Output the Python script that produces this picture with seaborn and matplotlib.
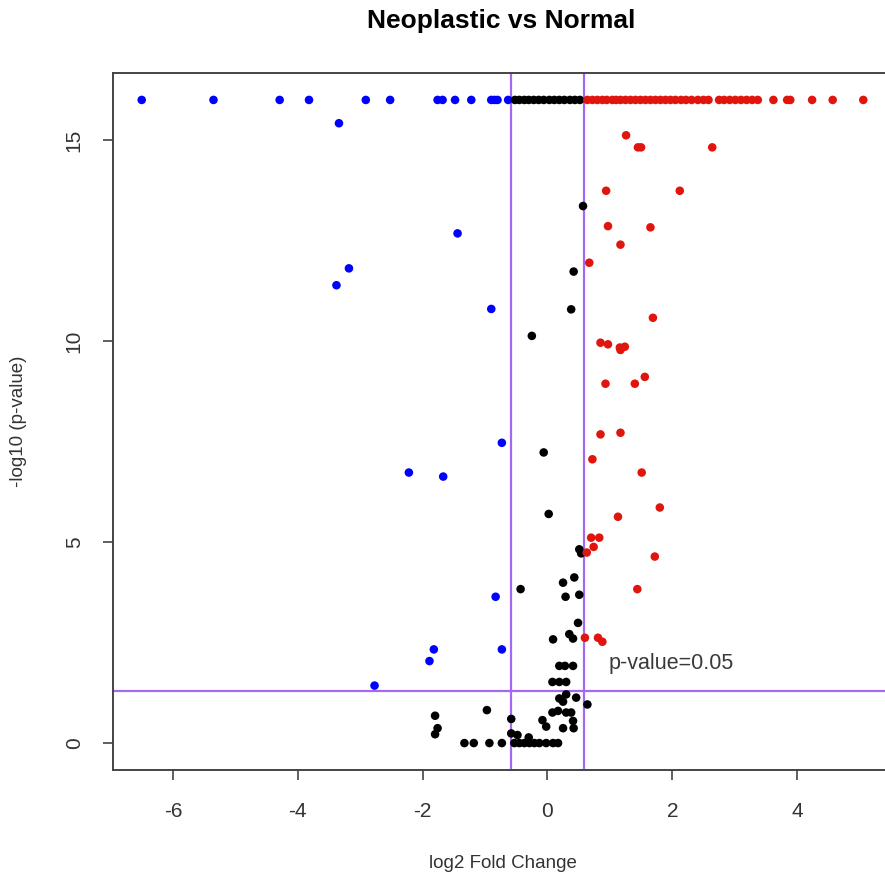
import numpy as np
import pandas as pd
import matplotlib
matplotlib.use("Agg")
import matplotlib.pyplot as plt
import seaborn as sns

# --- data (log2 fold change, -log10 p-value) ---
blue_x = [-6.50, -5.35, -4.29, -3.82, -2.91, -2.52, -1.76, -1.68, -1.48, -1.22,
          -0.90, -0.85, -0.80, -0.63,
          -3.34, -1.44, -3.18, -3.38, -0.90, -0.73, -2.22, -1.67, -0.83, -1.82,
          -0.73, -1.89, -2.77]
blue_y = [16.0] * 14 + [15.42, 12.68, 11.81, 11.39, 10.80, 7.47, 6.73, 6.63, 3.64,
                        2.33, 2.33, 2.04, 1.43]

black_x = [-0.52, -0.45, -0.37, -0.30, -0.22, -0.14, -0.06, 0.03, 0.11, 0.19,
           0.27, 0.36, 0.44, 0.52,
           0.57, 0.42, 0.38, -0.25, -0.06, 0.02, 0.51, 0.54, 0.43, 0.25, -0.43,
           0.29, 0.51, 0.49, 0.35, 0.41, 0.09, 0.19, 0.28, 0.41, 0.08, 0.19, 0.30,
           0.30, 0.19, 0.25, 0.46, 0.64, -1.80, -0.97, 0.08, 0.17, 0.30, 0.38,
           -0.58, -0.08, -0.02, 0.41, 0.25, 0.42, -1.76, -1.80, -0.58, -0.48, -0.30,
           -1.33, -1.18, -0.93, -0.73, -0.53, -0.45, -0.37, -0.29, -0.21, -0.13,
           -0.02, 0.09, 0.17]
black_y = [16.0] * 14 + [13.36, 11.73, 10.79, 10.13, 7.23, 5.70, 4.82, 4.72, 4.12,
                         3.99, 3.83, 3.64, 3.69, 2.99, 2.71, 2.60, 2.58, 1.92, 1.92,
                         1.92, 1.52, 1.52, 1.52, 1.21, 1.11, 1.03, 1.13, 0.96, 0.68,
                         0.82, 0.76, 0.80, 0.76, 0.76, 0.60, 0.57, 0.41, 0.55, 0.37,
                         0.37, 0.37, 0.22, 0.24, 0.20, 0.14] + [0.0] * 13

red_top_x = [0.64, 0.72, 0.80, 0.88, 0.95, 1.04, 1.10, 1.17, 1.25, 1.33, 1.41, 1.49,
             1.57, 1.65, 1.73, 1.81, 1.89, 1.97, 2.05, 2.14, 2.22, 2.31, 2.41, 2.50,
             2.58, 2.75, 2.83, 2.92, 3.01, 3.10, 3.19, 3.28, 3.37, 3.62, 3.84, 3.89,
             4.24, 4.57, 5.06]
red_x = red_top_x + [1.26, 1.45, 1.50, 2.64, 0.94, 2.12, 0.97, 1.65, 1.17, 0.67,
                     1.69, 0.85, 0.97, 1.16, 1.24, 1.17, 1.56, 0.93, 1.40, 0.85,
                     1.17, 0.72, 1.51, 1.80, 1.13, 0.70, 0.83, 0.74, 0.63, 1.72,
                     1.44, 0.60, 0.81, 0.88]
red_y = [16.0] * len(red_top_x) + [15.12, 14.82, 14.82, 14.82, 13.74, 13.74, 12.86,
                                   12.83, 12.40, 11.95, 10.58, 9.96, 9.92, 9.84,
                                   9.86, 9.78, 9.11, 8.94, 8.94, 7.68, 7.72, 7.06,
                                   6.73, 5.86, 5.63, 5.11, 5.11, 4.88, 4.74, 4.64,
                                   3.83, 2.62, 2.62, 2.52]

fc_cut = np.log2(1.5)
p_cut = -np.log10(0.05)

df = pd.concat([
    pd.DataFrame({"lfc": blue_x, "nlp": blue_y, "grp": "down"}),
    pd.DataFrame({"lfc": black_x, "nlp": black_y, "grp": "ns"}),
    pd.DataFrame({"lfc": red_x, "nlp": red_y, "grp": "up"}),
], ignore_index=True)

sns.set_style("white")
plt.rcParams['font.family'] = ['Liberation Sans', 'DejaVu Sans']
plt.rcParams['axes.unicode_minus'] = False

fig = plt.figure(figsize=(8.85, 8.8), dpi=100)
ax = fig.add_axes([113 / 885, 110 / 880, 779 / 885, 697 / 880])

line_col = '#A468F2'
ax.axvline(-fc_cut, color=line_col, lw=1.6, zorder=1)
ax.axvline(fc_cut, color=line_col, lw=1.6, zorder=1)
ax.axhline(p_cut, color=line_col, lw=1.6, zorder=1)

sns.scatterplot(data=df, x="lfc", y="nlp", hue="grp",
                palette={"down": "#0000FF", "ns": "#000000", "up": "#E0160E"},
                s=38, linewidth=0, legend=False, ax=ax, zorder=3)

ax.text(0.98, 1.99, "p-value=0.05", fontsize=15.5, color='#3A3A3A',
        ha='left', va='center')

ax.set_xlim(-6.96, 5.52)
ax.set_ylim(-0.67, 16.67)
ax.set_xticks([-6, -4, -2, 0, 2, 4])
ax.set_yticks([0, 5, 10, 15])
ax.tick_params(axis='both', direction='out', length=7, width=1.2,
               color='#444444', labelcolor='#333333', labelsize=15,
               bottom=True, left=True)
ax.tick_params(axis='x', pad=16)
ax.tick_params(axis='y', pad=14)
for lab in ax.get_yticklabels():
    lab.set_rotation(90)
    lab.set_va('center')

for side in ['left', 'bottom', 'top']:
    ax.spines[side].set_color('#444444')
    ax.spines[side].set_linewidth(1.4)
ax.spines['right'].set_visible(False)

ax.set_xlabel("log2 Fold Change", fontsize=13.5, color='#333333')
ax.set_ylabel("-log10 (p-value)", fontsize=13.5, color='#333333')
ax.xaxis.set_label_coords(0.5, -0.122)
ax.yaxis.set_label_coords(-0.111, 0.5)

fig.text(501 / 885, 1 - 21 / 880, "Neoplastic vs Normal", fontsize=19,
         fontweight='bold', ha='center', va='center', color='black')

fig.savefig("out.png", dpi=100)
